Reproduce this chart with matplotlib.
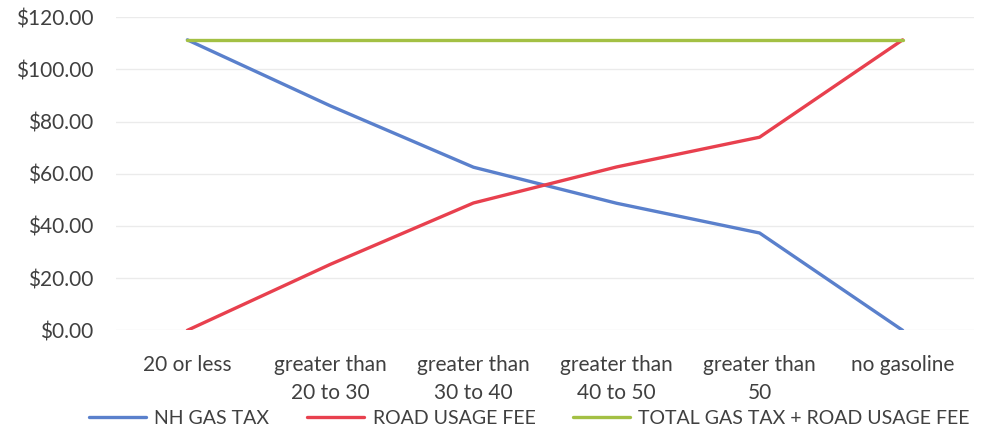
import matplotlib.pyplot as plt
from matplotlib.ticker import FuncFormatter

# values
categories = ['20 or less', 'greater than\n20 to 30', 'greater than\n30 to 40',
              'greater than\n40 to 50', 'greater than\n50', 'no gasoline']
nh_gas_tax = [111.3, 86.0, 62.5, 48.7, 37.3, 0.0]
road_usage_fee = [0.0, 25.3, 48.8, 62.6, 74.0, 111.3]
total_fee = [111.3, 111.3, 111.3, 111.3, 111.3, 111.3]

plt.rcParams['font.family'] = ['Lato', 'DejaVu Sans']

fig = plt.figure(figsize=(9.9, 4.29), dpi=100)
ax = fig.add_axes([0.117, 0.23, 0.867, 0.73])

x = range(len(categories))
ax.plot(x, nh_gas_tax, color='#5A80CC', lw=2.4, solid_capstyle='round', label='NH GAS TAX')
ax.plot(x, road_usage_fee, color='#E8404E', lw=2.4, solid_capstyle='round', label='ROAD USAGE FEE')
ax.plot(x, total_fee, color='#A3C044', lw=2.4, solid_capstyle='round',
        label='TOTAL GAS TAX + ROAD USAGE FEE')

ax.set_xlim(-0.5, len(categories) - 0.5)
ax.set_ylim(0, 120)
ax.set_yticks(range(0, 121, 20))
ax.yaxis.set_major_formatter(FuncFormatter(lambda v, p: f'${v:.2f}'))
ax.set_xticks(list(x))
ax.set_xticklabels(categories, linespacing=1.45)

ax.grid(axis='y', color='#ebebeb', lw=1)
ax.set_axisbelow(True)
for s in ax.spines.values():
    s.set_visible(False)
ax.tick_params(length=0, labelsize=15, colors='#404040')
ax.tick_params(axis='y', pad=16)
ax.tick_params(axis='x', pad=18)

fig.legend(loc='lower center', bbox_to_anchor=(0.535, -0.035), ncol=3, frameon=False,
           fontsize=14, labelcolor='#404040', handlelength=2.9, columnspacing=1.95,
           handletextpad=0.45)

fig.savefig('out.png', dpi=100)
